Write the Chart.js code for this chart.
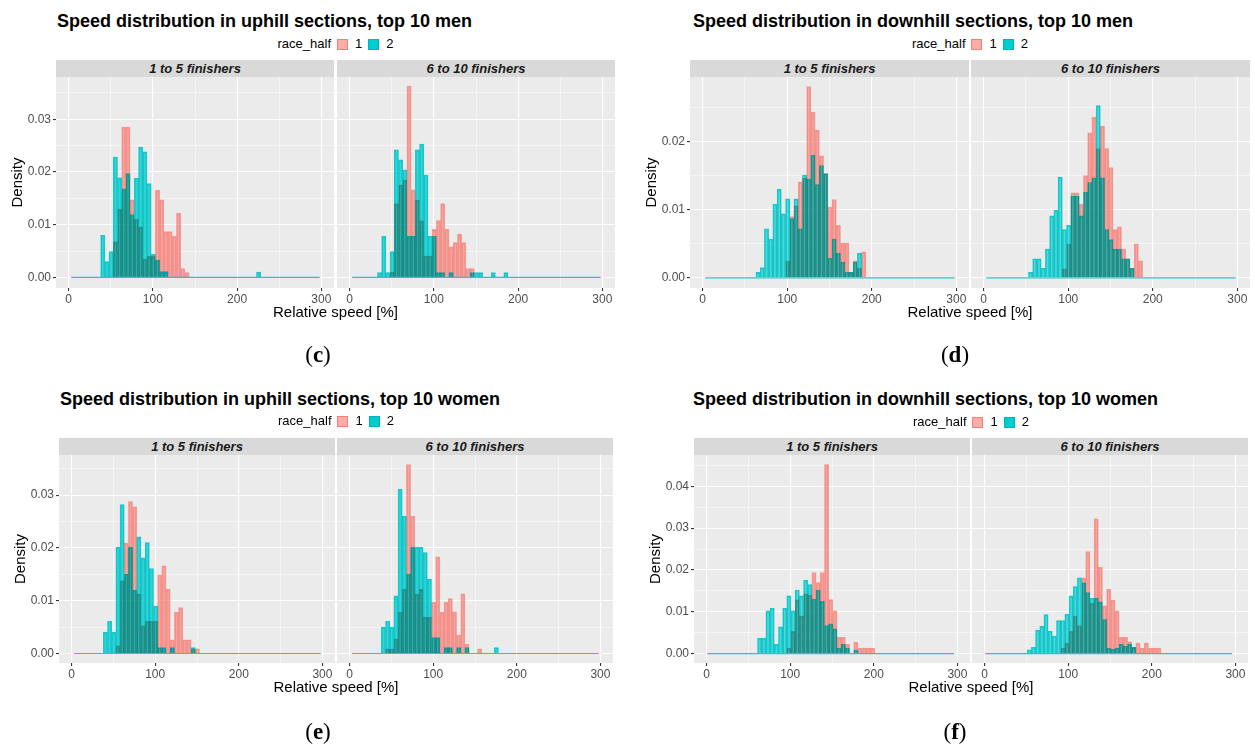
<!DOCTYPE html>
<html>
<head>
<meta charset="utf-8">
<script src="https://cdn.jsdelivr.net/npm/chart.js@4.4.1/dist/chart.umd.min.js"></script>
<style>
  body { margin: 0; background: #fff; font-family: "Liberation Sans", Arial, sans-serif; }
  #page { position: relative; width: 1255px; height: 751px; overflow: hidden; background: #fff; }
  canvas { position: absolute; }
  .title { position: absolute; font-weight: bold; font-size: 18px; line-height: 22px; color: #000; white-space: nowrap; }
  .strip { position: absolute; height: 17px; background: #D9D9D9; color: #1A1A1A; font-size: 13px; font-weight: bold; font-style: italic; text-align: center; line-height: 17px; white-space: nowrap; }
  .legend { position: absolute; display: flex; align-items: center; font-size: 13px; line-height: 16px; color: #000; white-space: nowrap; transform: translateX(-50%); }
  .key { display: inline-block; width: 9px; height: 9px; border: 1px solid; margin: 0 7px 0 6px; }
  .xtitle { position: absolute; font-size: 15px; line-height: 18px; color: #000; white-space: nowrap; transform: translateX(-50%); }
  .tag { position: absolute; font-family: "Liberation Serif", "DejaVu Serif", serif; font-size: 23px; line-height: 28px; color: #000; transform: translateX(-50%); }
</style>
</head>
<body>
<div id="page"></div>
<script>
// histogram bins: [edge + binWidth*k, edge + binWidth*(k+1)], density per bin
const binWidth = 5;
const binCount = 59;
const xTickLabels = [0, 100, 200, 300];
const xMinorTicks = [50, 150, 250];
const facetLabels = ["1 to 5 finishers", "6 to 10 finishers"];
const legendLabels = ["1", "2"];

// (c) uphill sections, top 10 men
const cEdge = 3;
const cTop5Half1From = 10;
const cTop5Half1 = [0.0068, 0.0129, 0.0285, 0.0285, 0.0147, 0.0110, 0.0096, 0.0035, 0.0040, 0.0040, 0.0165, 0.0147, 0.0087, 0.0087, 0.0078, 0.0122, 0.0017, 0.0009];
const cTop5Half2From = 7;
const cTop5Half2 = [0.0080, 0.0030, 0.0049, 0.0228, 0.0189, 0.0168, 0.0197, 0.0119, 0.0188, 0.0247, 0.0238, 0.0178, 0.0044, 0.0033, 0.0011, 0.0011,
  0, 0, 0, 0, 0, 0, 0, 0, 0, 0, 0, 0, 0, 0, 0, 0, 0, 0, 0, 0, 0, 0.0010];
const cTop10Half1From = 9;
const cTop10Half1 = [0.0010, 0.0140, 0.0175, 0.0185, 0.0363, 0.0166, 0.0147, 0.0108, 0.0041, 0.0041, 0.0091, 0.0108, 0.0140, 0.0091, 0.0058, 0.0066, 0.0082, 0.0066, 0.0017, 0.0017];
const cTop10Half2From = 6;
const cTop10Half2 = [0.0009, 0.0078, 0.0009, 0.0049, 0.0242, 0.0223, 0.0204, 0.0078, 0.0078, 0.0242, 0.0253, 0.0194, 0.0078, 0.0078, 0.0009, 0.0009,
  0, 0.0009, 0, 0, 0, 0, 0.0009, 0.0009, 0.0009, 0, 0, 0.0009, 0, 0, 0.0009];
const cYTicks = [0, 0.01, 0.02, 0.03];
const cYMinor = [0.005, 0.015, 0.025, 0.035];

// (d) downhill sections, top 10 men
const dEdge = 3;
const dTop5Half1From = 19;
const dTop5Half1 = [0.0025, 0.0090, 0.0106, 0.0141, 0.0147, 0.0281, 0.0243, 0.0217, 0.0179, 0.0153, 0.0104, 0.0115, 0.0077, 0.0051, 0.0051, 0.0008, 0.0025, 0.0014, 0.0038];
const dTop5Half2From = 12;
const dTop5Half2 = [0.0008, 0.0015, 0.0072, 0.0057, 0.0108, 0.0130, 0.0094, 0.0116, 0.0087, 0.0116, 0.0072, 0.0151, 0.0145, 0.0180, 0.0137, 0.0165, 0.0153, 0.0029, 0.0057, 0.0036, 0.0023, 0.0008, 0.0008, 0.0023, 0.0036];
const dTop10Half1From = 18;
const dTop10Half1 = [0.0013, 0.0050, 0.0125, 0.0125, 0.0108, 0.0150, 0.0213, 0.0236, 0.0190, 0.0223, 0.0190, 0.0162, 0.0071, 0.0075, 0.0042, 0.0028, 0.0014, 0.0050, 0.0025];
const dTop10Half2From = 10;
const dTop10Half2 = [0.0008, 0.0028, 0.0028, 0.0014, 0.0042, 0.0091, 0.0099, 0.0148, 0.0071, 0.0077, 0.0120, 0.0120, 0.0091, 0.0126, 0.0140, 0.0147, 0.0253, 0.0147, 0.0071, 0.0056, 0.0042, 0.0042, 0.0028, 0.0028, 0.0014];
const dYTicks = [0, 0.01, 0.02];
const dYMinor = [0.005, 0.015, 0.025];

// (e) uphill sections, top 10 women
const eEdge = 3;
const eTop5Half1From = 10;
const eTop5Half1 = [0.0015, 0.0138, 0.0209, 0.0288, 0.0278, 0.0113, 0.0053, 0.0061, 0.0061, 0.0061, 0.0149, 0.0166, 0.0122, 0.0026, 0.0078, 0.0087, 0.0026, 0.0026, 0.0009, 0.0009];
const eTop5Half2From = 7;
const eTop5Half2 = [0.0040, 0.0061, 0.0040, 0.0201, 0.0282, 0.0150, 0.0201, 0.0120, 0.0221, 0.0181, 0.0210, 0.0161, 0.0090, 0.0011, 0.0011, 0, 0.0011, 0, 0, 0, 0, 0.0011];
const eTop10Half1From = 8;
const eTop10Half1 = [0.0009, 0.0009, 0.0028, 0.0078, 0.0122, 0.0358, 0.0260, 0.0113, 0.0122, 0.0069, 0.0069, 0.0097, 0.0183, 0.0078, 0.0097, 0.0104, 0.0079, 0.0035, 0.0113, 0.0018, 0, 0, 0.0009];
const eTop10Half2From = 7;
const eTop10Half2 = [0.0050, 0.0061, 0.0050, 0.0109, 0.0311, 0.0260, 0.0150, 0.0201, 0.0201, 0.0201, 0.0191, 0.0141, 0.0030, 0.0030,
  0, 0.0011, 0.0011, 0, 0.0011, 0, 0.0011, 0, 0, 0, 0, 0, 0, 0.0011];
const eYTicks = [0, 0.01, 0.02, 0.03];
const eYMinor = [0.005, 0.015, 0.025, 0.035];

// (f) downhill sections, top 10 women
const fEdge = 1;
const fTop5Half1From = 19;
const fTop5Half1 = [0.0013, 0.0053, 0.0129, 0.0090, 0.0143, 0.0140, 0.0194, 0.0170, 0.0194, 0.0452, 0.0129, 0.0102, 0.0039, 0.0039, 0.0022, 0, 0.0027, 0.0013, 0.0013, 0.0013, 0.0013];
const fTop5Half2From = 12;
const fTop5Half2 = [0.0037, 0.0037, 0.0102, 0.0108, 0.0022, 0.0064, 0.0108, 0.0138, 0.0102, 0.0152, 0.0138, 0.0175, 0.0165, 0.0130, 0.0152, 0.0125, 0.0067, 0.0071, 0.0059, 0.0013, 0.0022, 0.0013, 0, 0.0008];
const fTop10Half1From = 18;
const fTop10Half1 = [0.0013, 0.0025, 0.0053, 0.0089, 0.0067, 0.0181, 0.0244, 0.0120, 0.0322, 0.0206, 0.0114, 0.0154, 0.0128, 0.0102, 0.0039, 0.0039, 0.0028, 0.0015, 0.0025, 0.0013, 0.0025, 0.0013, 0.0013, 0.0013];
const fTop10Half2From = 10;
const fTop10Half2 = [0.0009, 0.0015, 0.0056, 0.0065, 0.0093, 0.0053, 0.0042, 0.0079, 0.0079, 0.0094, 0.0138, 0.0160, 0.0181, 0.0169, 0.0146, 0.0132, 0.0132, 0.0124, 0.0081, 0.0013, 0.0010, 0.0013, 0.0022, 0.0017, 0.0022, 0.0015];
const fYTicks = [0, 0.01, 0.02, 0.03, 0.04];
const fYMinor = [0.005, 0.015, 0.025, 0.035, 0.045];

const FONT = '"Liberation Sans", Arial, sans-serif';
const Y_AXIS_W = 56;
const X_AXIS_H = 22;
const pinkFill = "rgba(248,118,109,0.58)";
const pinkLine = "rgba(248,118,109,0.68)";

// panel layout (pixels)
const panels = [
  { tag: "c", title: "Speed distribution in uphill sections, top 10 men", L: 56, W: 278, gap: 3, top: 77, h: 211,
    titleX: 57, titleY: 21, legendY: 44, xTitleY: 312, tagX: 318, tagY: 355, tealAlpha: 0.78,
    yMin: -0.002, yMax: 0.038, yTicks: cYTicks, yMinor: cYMinor, edge: cEdge,
    facets: [[cTop5Half1From, cTop5Half1, cTop5Half2From, cTop5Half2], [cTop10Half1From, cTop10Half1, cTop10Half2From, cTop10Half2]] },
  { tag: "d", title: "Speed distribution in downhill sections, top 10 men", L: 690, W: 279, gap: 2, top: 77, h: 211,
    titleX: 693, titleY: 21, legendY: 44, xTitleY: 312, tagX: 955, tagY: 355, tealAlpha: 0.68,
    yMin: -0.0015, yMax: 0.0295, yTicks: dYTicks, yMinor: dYMinor, edge: dEdge,
    facets: [[dTop5Half1From, dTop5Half1, dTop5Half2From, dTop5Half2], [dTop10Half1From, dTop10Half1, dTop10Half2From, dTop10Half2]] },
  { tag: "e", title: "Speed distribution in uphill sections, top 10 women", L: 59, W: 276, gap: 2, top: 455, h: 208,
    titleX: 60, titleY: 399, legendY: 421, xTitleY: 687, tagX: 318, tagY: 732, tealAlpha: 0.78,
    yMin: -0.0018, yMax: 0.0376, yTicks: eYTicks, yMinor: eYMinor, edge: eEdge,
    facets: [[eTop5Half1From, eTop5Half1, eTop5Half2From, eTop5Half2], [eTop10Half1From, eTop10Half1, eTop10Half2From, eTop10Half2]] },
  { tag: "f", title: "Speed distribution in downhill sections, top 10 women", L: 694, W: 276, gap: 2, top: 455, h: 208,
    titleX: 693, titleY: 399, legendY: 422, xTitleY: 687, tagX: 955, tagY: 732, tealAlpha: 0.68,
    yMin: -0.00226, yMax: 0.0475, yTicks: fYTicks, yMinor: fYMinor, edge: fEdge,
    facets: [[fTop5Half1From, fTop5Half1, fTop5Half2From, fTop5Half2], [fTop10Half1From, fTop10Half1, fTop10Half2From, fTop10Half2]] }
];

const page = document.getElementById("page");

// grey panel background
const bgPlugin = {
  id: "panelBg",
  beforeDraw(chart) {
    const { ctx, chartArea: a } = chart;
    ctx.save();
    ctx.fillStyle = "#EBEBEB";
    ctx.fillRect(a.left, a.top, a.width, a.height);
    ctx.restore();
  }
};

// overlap of the two halves shows darker
const blendPlugin = {
  id: "blend",
  beforeDatasetDraw(chart, args) {
    const ds = chart.data.datasets[args.index];
    if (ds.blend) {
      chart.ctx.save();
      chart.ctx.globalCompositeOperation = ds.blend;
    }
  },
  afterDatasetDraw(chart, args) {
    if (chart.data.datasets[args.index].blend) chart.ctx.restore();
  }
};

function binPoints(edge, from, values) {
  return values.map((v, i) => ({ x: edge + binWidth * (from + i) + binWidth / 2, y: v === 0 ? null : v }));
}

function addDiv(cls, html, left, top, width) {
  const d = document.createElement("div");
  d.className = cls;
  d.innerHTML = html;
  d.style.left = left + "px";
  d.style.top = top + "px";
  if (width) d.style.width = width + "px";
  page.appendChild(d);
  return d;
}

function drawFacet(p, idx) {
  const f = p.facets[idx];
  const withY = idx === 0;
  const left = p.L + idx * (p.W + p.gap);
  const axisW = withY ? Y_AXIS_W : 0;
  const cv = document.createElement("canvas");
  cv.width = p.W + axisW;
  cv.height = p.h + X_AXIS_H;
  cv.style.left = (left - axisW) + "px";
  cv.style.top = p.top + "px";
  page.appendChild(cv);

  addDiv("strip", facetLabels[idx], left, p.top - 17, p.W);

  const xAll = xTickLabels.concat(xMinorTicks).sort((a, b) => a - b);
  const yAll = p.yTicks.concat(p.yMinor).sort((a, b) => a - b);
  const tealFill = "rgba(0,205,208," + p.tealAlpha + ")";
  const tealLine = "rgba(0,190,194,0.85)";

  new Chart(cv, {
    type: "bar",
    data: {
      datasets: [
        {
          type: "line",
          data: [{ x: p.edge, y: 0 }, { x: p.edge + binWidth * binCount, y: 0 }],
          borderColor: "#2EC4C6",
          borderWidth: 1.2,
          pointRadius: 0,
          order: 0
        },
        {
          label: legendLabels[1],
          data: binPoints(p.edge, f[2], f[3]),
          backgroundColor: tealFill,
          borderColor: tealLine,
          borderWidth: 1,
          blend: "darken",
          order: 1
        },
        {
          label: legendLabels[0],
          data: binPoints(p.edge, f[0], f[1]),
          backgroundColor: pinkFill,
          borderColor: pinkLine,
          borderWidth: 1,
          order: 2
        }
      ]
    },
    options: {
      responsive: false,
      animation: false,
      layout: { padding: 0 },
      datasets: { bar: { barPercentage: 1, categoryPercentage: 1, grouped: false } },
      plugins: { legend: { display: false }, tooltip: { enabled: false } },
      scales: {
        x: {
          type: "linear",
          min: -15,
          max: 315,
          offset: false,
          afterBuildTicks: s => { s.ticks = xAll.map(v => ({ value: v })); },
          afterFit: s => { s.height = X_AXIS_H; s.paddingLeft = 0; s.paddingRight = 0; },
          ticks: {
            autoSkip: false, maxRotation: 0, minRotation: 0, padding: 1,
            color: "#4D4D4D", font: { family: FONT, size: 12 },
            callback: v => xTickLabels.includes(v) ? String(v) : ""
          },
          grid: {
            offset: false,
            color: "#FFFFFF",
            lineWidth: c => (c.tick && xTickLabels.includes(c.tick.value)) ? 1.1 : 0.5,
            tickColor: c => (c.tick && xTickLabels.includes(c.tick.value)) ? "#333333" : "rgba(0,0,0,0)",
            tickLength: 3
          },
          border: { display: false }
        },
        y: {
          min: p.yMin,
          max: p.yMax,
          afterBuildTicks: s => { s.ticks = yAll.map(v => ({ value: v })); },
          afterFit: s => { s.width = axisW; s.paddingTop = 0; s.paddingBottom = 0; },
          ticks: {
            display: withY, autoSkip: false, padding: 2,
            color: "#4D4D4D", font: { family: FONT, size: 12 },
            callback: v => p.yTicks.includes(v) ? v.toFixed(2) : ""
          },
          grid: {
            color: "#FFFFFF",
            drawTicks: withY,
            lineWidth: c => (c.tick && p.yTicks.includes(c.tick.value)) ? 1.1 : 0.5,
            tickColor: c => (c.tick && p.yTicks.includes(c.tick.value)) ? "#333333" : "rgba(0,0,0,0)",
            tickLength: 3
          },
          border: { display: false },
          title: {
            display: withY, text: "Density", color: "#000",
            font: { family: FONT, size: 15 }, padding: { top: 9, bottom: 0 }
          }
        }
      }
    },
    plugins: [bgPlugin, blendPlugin]
  });
}

panels.forEach(p => {
  addDiv("title", p.title, p.titleX, p.titleY - 11);
  const cx = (p.L + p.L + 2 * p.W + p.gap) / 2;
  addDiv("legend",
    'race_half<span class="key" style="background:rgba(248,118,109,0.6);border-color:rgba(248,118,109,0.85)"></span>' + legendLabels[0] +
    '<span class="key" style="background:#00CDD0;border-color:#00B4B8"></span>' + legendLabels[1],
    cx, p.legendY - 8);
  drawFacet(p, 0);
  drawFacet(p, 1);
  addDiv("xtitle", "Relative speed [%]", cx, p.xTitleY - 9);
  addDiv("tag", "(<b>" + p.tag + "</b>)", p.tagX, p.tagY - 14);
});
</script>
</body>
</html>
